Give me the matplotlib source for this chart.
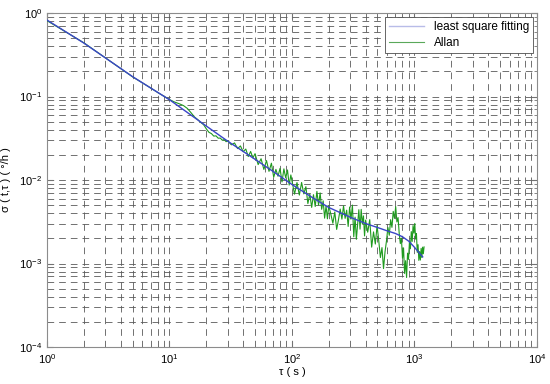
import numpy as np
import matplotlib
matplotlib.use("Agg")
import matplotlib.pyplot as plt
from matplotlib.ticker import LogLocator

plt.rcParams['font.family'] = ['Liberation Sans', 'DejaVu Sans']
plt.rcParams['mathtext.default'] = 'regular'

# least square fit curve
fit_tau = [1, 2, 3, 5, 7, 10, 15, 20, 30, 50, 70, 100, 150, 200, 300, 400,
           500, 600, 700, 800, 900, 1000, 1100, 1170]
fit_sigma = [0.824, 0.437, 0.290, 0.173, 0.127, 0.0916, 0.0599, 0.0443, 0.0291,
             0.0177, 0.0127, 0.00885, 0.00605, 0.00469, 0.00358, 0.00301,
             0.00270, 0.00246, 0.00229, 0.00209, 0.00185, 0.00157, 0.00133, 0.00120]

# Allan deviation
allan_tau = (list(range(1, 31)) + list(range(32, 51, 2)) + list(range(53, 99, 3))
             + list(range(105, 201, 5)) + list(range(208, 401, 8))
             + list(range(416, 1201, 16)))
allan_sigma = [
    # 1 - 30
    0.810, 0.440, 0.290, 0.215, 0.172, 0.146, 0.127, 0.112, 0.101, 0.092,
    0.086, 0.082, 0.078, 0.072, 0.064, 0.057, 0.053, 0.049, 0.046, 0.041,
    0.0373, 0.0360, 0.0336, 0.0338, 0.0317, 0.0318, 0.0300, 0.0305, 0.0288, 0.0294,
    # 32 - 50
    0.0264, 0.0278, 0.0238, 0.0256, 0.0218, 0.0235, 0.0191, 0.0220, 0.0184, 0.0207,
    # 53 - 98
    0.0153, 0.0180, 0.0134, 0.0171, 0.0127, 0.0159, 0.0108, 0.0134, 0.0111, 0.0138,
    0.0095, 0.0136, 0.0106, 0.0132, 0.0087, 0.0115,
    # 105 - 200
    0.00677, 0.00932, 0.00660, 0.00934, 0.00683, 0.00832, 0.00522, 0.00679, 0.00470, 0.00667,
    0.00482, 0.00731, 0.00500, 0.00701, 0.00446, 0.00563, 0.00349, 0.00487, 0.00343, 0.00492,
    # 208 - 400
    0.00389, 0.00304, 0.00414, 0.00256, 0.00334, 0.00449, 0.00340, 0.00490, 0.00347, 0.00435,
    0.00278, 0.00475, 0.00341, 0.00501, 0.00209, 0.00359, 0.00195, 0.00299, 0.00441, 0.00258,
    0.00445, 0.00298, 0.00372, 0.00214, 0.00331,
    # 416 - 1200
    0.00237, 0.00335, 0.00157, 0.00239, 0.00171, 0.00285, 0.00187, 0.00118, 0.00155, 0.00087,
    0.00138, 0.00186, 0.00270, 0.00218, 0.00335, 0.00271, 0.00421, 0.00347, 0.00479, 0.00315,
    0.00355, 0.00230, 0.00173, 0.00201, 0.00115, 0.00154, 0.00076, 0.00108, 0.00068, 0.00133,
    0.00112, 0.00182, 0.00150, 0.00241, 0.00184, 0.00285, 0.00231, 0.00302, 0.00196, 0.00228,
    0.00136, 0.00168, 0.00109, 0.00139, 0.00110, 0.00152, 0.00118, 0.00157, 0.00131, 0.00158,
]

fig = plt.figure(figsize=(5.5, 3.84), dpi=100)
ax = fig.add_axes([0.0855, 0.0964, 0.8905, 0.8696])

line_fit, = ax.loglog(fit_tau, fit_sigma, color='#3a45c8', lw=1.0, zorder=4)
line_allan, = ax.loglog(allan_tau, allan_sigma, color='#1f9a1f', lw=0.8, zorder=3)

ax.set_xlim(1, 1e4)
ax.set_ylim(1e-4, 1)
ax.xaxis.set_major_locator(LogLocator(base=10, numticks=10))
ax.yaxis.set_major_locator(LogLocator(base=10, numticks=10))
ax.xaxis.set_minor_locator(LogLocator(base=10, subs=np.arange(2, 10), numticks=20))
ax.yaxis.set_minor_locator(LogLocator(base=10, subs=np.arange(2, 10), numticks=20))

## MATLAB style dashed grid
for which in ['major', 'minor']:
    ax.grid(True, which=which, color='0.35', lw=0.6, linestyle=(0, (8, 6)))
ax.set_axisbelow(True)

ax.tick_params(which='both', direction='in', top=True, right=True,
               colors='0.45', labelcolor='black', labelsize=8)
ax.tick_params(which='major', length=4)
ax.tick_params(which='minor', length=2)
for sp in ax.spines.values():
    sp.set_color('0.55')
    sp.set_linewidth(0.8)

ax.set_xlabel('τ ( s )', fontsize=8, labelpad=1)
ax.set_ylabel('σ ( t,τ ) ( °/h )', fontsize=8, labelpad=6)

leg = ax.legend([line_fit, line_allan], ['least square fitting', 'Allan'],
                loc='upper right', fontsize=8.5, fancybox=False, framealpha=1,
                edgecolor='0.3', borderpad=0.35, handlelength=3.0,
                labelspacing=0.35, borderaxespad=0.3)
leg.get_frame().set_linewidth(0.6)
leg.get_lines()[0].set_color('#b8bce8')
leg.get_lines()[1].set_color('#5aa85a')

fig.savefig('out.png', dpi=100)
